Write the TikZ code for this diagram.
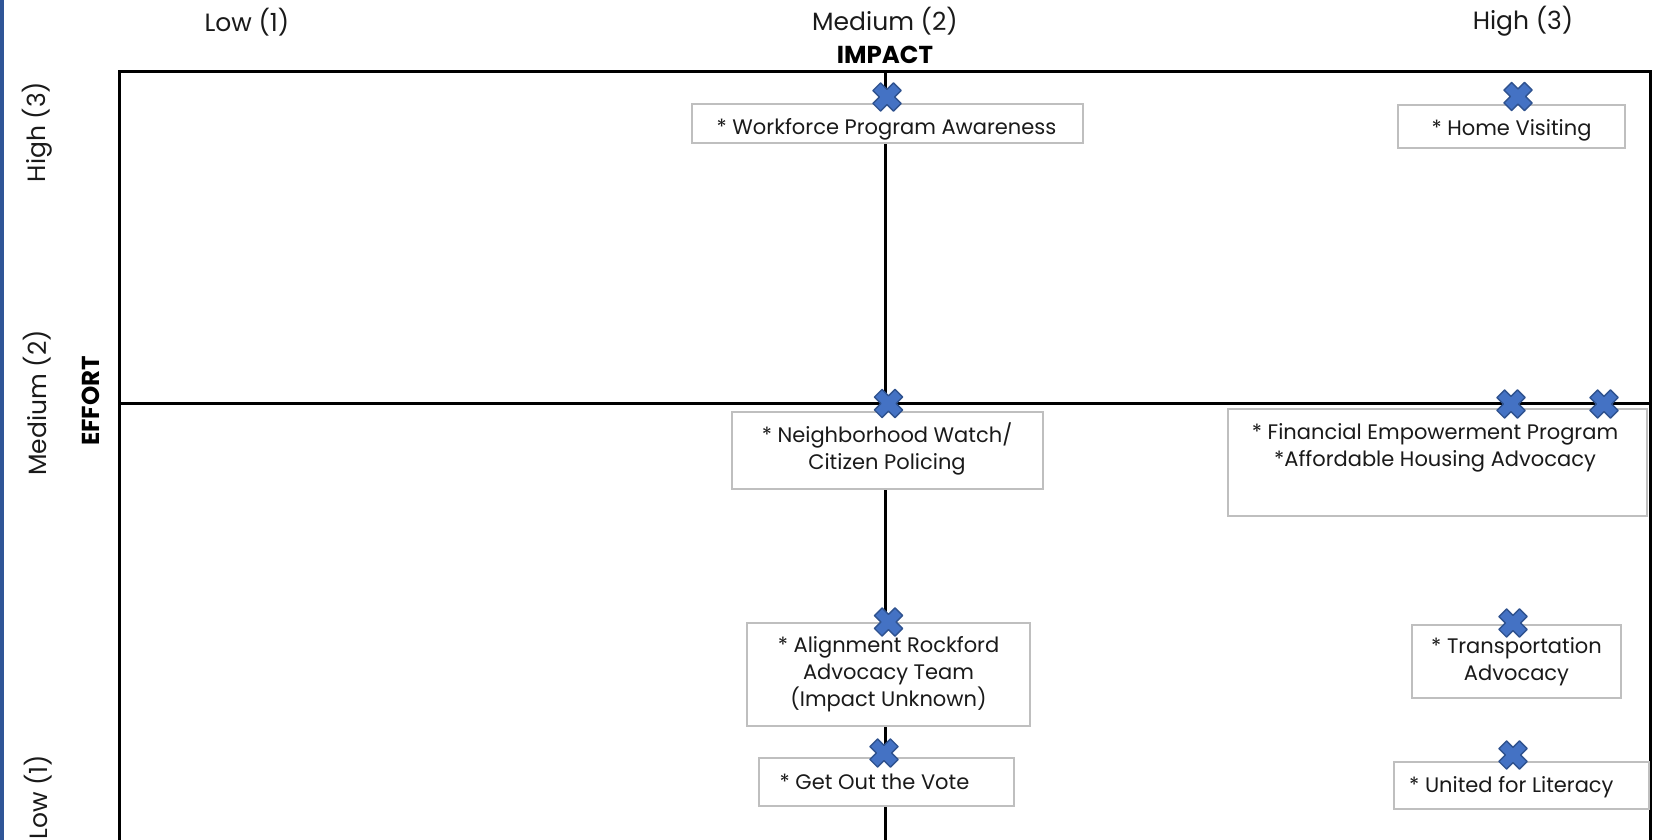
\documentclass[tikz,border=0pt]{standalone}
\usepackage{fontspec}
\setmainfont{Poppins}
\definecolor{xfill}{HTML}{4472C4}
\definecolor{xline}{HTML}{2F528F}
\definecolor{boxline}{HTML}{BFBFBF}
\definecolor{stripblue}{HTML}{2F5597}
\definecolor{txt}{HTML}{1A1A1A}
\tikzset{
  box/.style={draw=boxline, line width=1.3pt, fill=white, inner sep=0pt, align=center,
    font=\fontsize{21}{27}\selectfont, text=txt},
  boxtext/.style={inner sep=0pt, align=center, font=\fontsize{21}{27}\selectfont, text=txt},
  axislbl/.style={inner sep=0pt, font=\fontsize{25}{30}\selectfont, text=txt},
  axistitle/.style={inner sep=0pt, font=\bfseries\fontsize{24.5}{28}\selectfont, text=black},
  gridline/.style={line width=3pt, black},
  pics/bluex/.style={code={
    \draw[xline, fill=xfill, line width=1.4pt, line join=round, rotate=45]
      (14.5,5.4) -- (5.4,5.4) -- (5.4,14.5) -- (-5.4,14.5) -- (-5.4,5.4) -- (-14.5,5.4)
      -- (-14.5,-5.4) -- (-5.4,-5.4) -- (-5.4,-14.5) -- (5.4,-14.5) -- (5.4,-5.4)
      -- (14.5,-5.4) -- cycle;
  }}
}
\begin{document}
\begin{tikzpicture}[x=1pt,y=-1pt]
\useasboundingbox (0,0) rectangle (1657,840);
\fill[white] (0,0) rectangle (1657,840);
\fill[stripblue] (0,0) rectangle (3.5,840);

% frame and axes
\coordinate (tl) at (119.5,72);
\coordinate (br) at (1650,900);
\coordinate (vtop) at (885,72);
\coordinate (vbot) at (885,900);
\coordinate (hl) at (119.5,403);
\coordinate (hr) at (1650,403);
\draw[gridline] (tl) rectangle (br);
\draw[gridline] (vtop) -- (vbot);
\draw[gridline] (hl) -- (hr);

% axis labels
\node[axislbl] (lowI) at (247,22) {Low (1)};
\node[axislbl] (medI) at (885,21) {Medium (2)};
\node[axislbl] (highI) at (1523,21) {High (3)};
\node[axistitle] (impact) at (885,55) {IMPACT};
\node[axislbl, rotate=90] (highE) at (37,132) {High (3)};
\node[axislbl, rotate=90] (medE) at (37,403) {Medium (2)};
\node[axislbl, rotate=90] (lowE) at (38,797) {Low (1)};
\node[axistitle, rotate=90] (effort) at (91,401) {EFFORT};

% boxes
\node[box, minimum width=391, minimum height=39] (wfp) at (887.5,123.5) {};
\node[boxtext] (wfptxt) at (886.5,129) {* Workforce Program Awareness};
\node[box, minimum width=227, minimum height=43] (home) at (1511.5,126.5) {};
\node[boxtext] (hometxt) at (1511.5,130.5) {* Home Visiting};
\node[box, minimum width=311, minimum height=77] (nbw) at (887.5,450.5) {};
\node[boxtext] (nbwtxt) at (887,448.5) {* Neighborhood Watch/\\Citizen Policing};
\node[box, minimum width=419, minimum height=107] (fin) at (1437.5,462.5) {};
\node[boxtext] (fintxt) at (1435,447.5) {* Financial Empowerment Program\\*Affordable Housing Advocacy};
\node[box, minimum width=283, minimum height=103] (align) at (888.5,674.5) {* Alignment Rockford\\Advocacy Team\\(Impact Unknown)};
\node[box, minimum width=209, minimum height=73] (trans) at (1516.5,661.5) {* Transportation\\Advocacy};
\node[box, minimum width=255, minimum height=47] (united) at (1521.5,785.5) {};
\node[boxtext, anchor=west] (unitedtxt) at (1409,787) {* United for Literacy};
\node[box, minimum width=255, minimum height=48] (gotv) at (886.5,782) {};
\node[boxtext] (gotvtxt) at (874.5,782) {* Get Out the Vote};

% markers
\pic at (887,97) {bluex};
\pic at (1518,96.5) {bluex};
\pic at (888.5,403.5) {bluex};
\pic at (1511,404) {bluex};
\pic at (1604,404) {bluex};
\pic at (888.5,622) {bluex};
\pic at (1513,623) {bluex};
\pic at (1513,755) {bluex};
\pic at (884,753) {bluex};
\end{tikzpicture}
\end{document}
